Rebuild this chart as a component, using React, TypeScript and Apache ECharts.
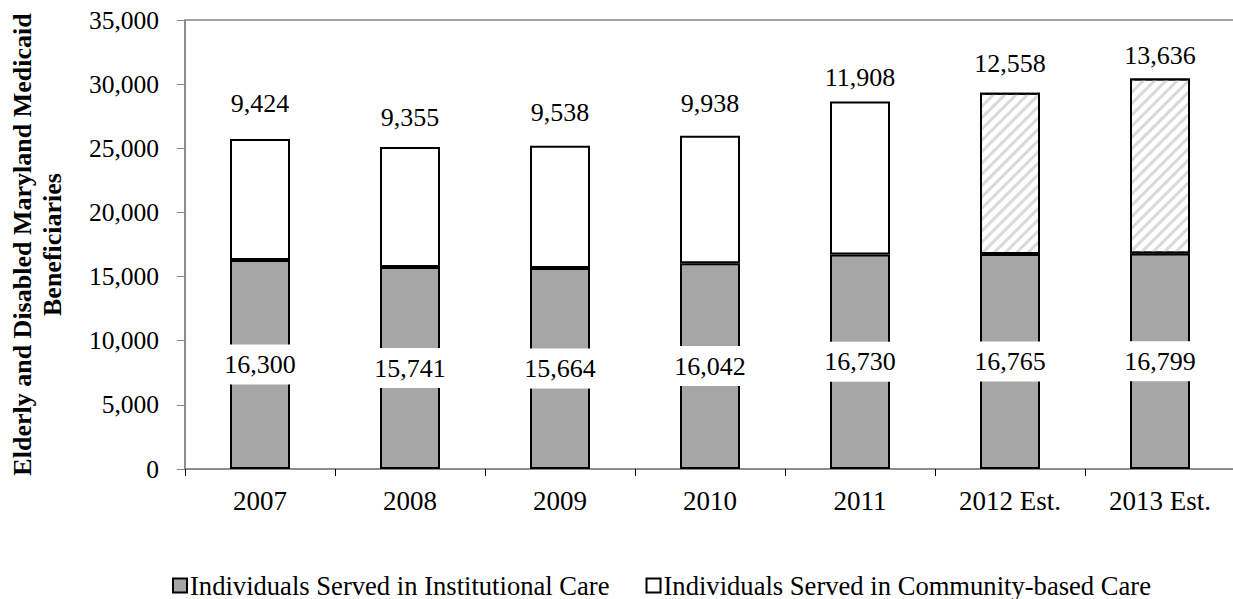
import React, { useEffect, useRef } from "react";
import * as echarts from "echarts";

const categories = ["2007", "2008", "2009", "2010", "2011", "2012 Est.", "2013 Est."];
const institutional = [16300, 15741, 15664, 16042, 16730, 16765, 16799];
const community = [9424, 9355, 9538, 9938, 11908, 12558, 13636];
const estimated = [false, false, false, false, false, true, true];
const yTicks = [0, 5000, 10000, 15000, 20000, 25000, 30000, 35000];
const seriesNames = ["Individuals Served in Institutional Care", "Individuals Served in Community-based Care"];
const yTitle = "Elderly and Disabled Maryland Medicaid\nBeneficiaries";
// label gaps above bars (style only)
const topLabelGap = [22, 17, 20, 19, 11, 16, 10];

const FONT = "Liberation Serif";
const fmt = (v: number) => v.toLocaleString("en-US");

export default function App() {
  const ref = useRef<HTMLDivElement>(null);
  useEffect(() => {
    if (!ref.current) return;
    const chart = echarts.init(ref.current, undefined, { renderer: "svg" });
    const hatch = {
      symbol: "rect",
      symbolSize: 1,
      dashArrayX: [1, 0],
      dashArrayY: [3, 5],
      rotation: -Math.PI / 4,
      color: "#d9d9d9",
    };
    chart.setOption({
      animation: false,
      backgroundColor: "#fff",
      textStyle: { fontFamily: FONT, color: "#000" },
      grid: {
        left: 185,
        right: -2,
        top: 20,
        bottom: 130,
        show: true,
        borderColor: "#868686",
        borderWidth: 1.5,
        backgroundColor: "transparent",
        containLabel: false,
        outerBoundsMode: "none",
      },
      legend: {
        top: 567,
        left: 167,
        icon: "rect",
        itemWidth: 14,
        itemHeight: 14,
        itemGap: 36,
        itemStyle: { borderColor: "#000", borderWidth: 2 },
        textStyle: { fontFamily: FONT, fontSize: 26.6, color: "#000", padding: [0, 0, 0, -2] },
        data: seriesNames,
      },
      xAxis: {
        type: "category",
        data: categories,
        axisLine: { lineStyle: { color: "#868686", width: 1.5 } },
        axisTick: { show: true, length: 7, lineStyle: { color: "#000" } },
        axisLabel: { fontFamily: FONT, fontSize: 27, color: "#000", margin: 18 },
      },
      yAxis: {
        type: "value",
        min: 0,
        max: 35000,
        interval: 5000,
        name: yTitle,
        nameLocation: "middle",
        nameRotate: 90,
        nameGap: 118,
        nameTextStyle: { fontFamily: FONT, fontSize: 26, fontWeight: "bold", color: "#000", lineHeight: 30 },
        axisLine: { show: true, lineStyle: { color: "#868686", width: 1.5 } },
        axisTick: { show: true, length: 8, lineStyle: { color: "#868686" } },
        splitLine: { show: false },
        axisLabel: {
          fontFamily: FONT,
          fontSize: 25.5,
          color: "#000",
          margin: 26,
          formatter: (v: number) => (yTicks.includes(v) ? fmt(v) : ""),
        },
      },
      series: [
        {
          name: seriesNames[0],
          type: "bar",
          stack: "total",
          barWidth: "40%",
          data: institutional,
          itemStyle: { color: "#a6a6a6", borderColor: "#000", borderWidth: 2 },
          label: {
            show: true,
            position: "inside",
            fontFamily: FONT,
            fontSize: 26,
            color: "#000",
            backgroundColor: "#fff",
            padding: [7, 1],
            formatter: (p: any) => fmt(p.value),
          },
        },
        {
          name: seriesNames[1],
          type: "bar",
          stack: "total",
          barWidth: "40%",
          data: community.map((v, i) => ({
            value: v,
            label: { distance: topLabelGap[i] },
            itemStyle: estimated[i] ? { decal: hatch } : undefined,
          })),
          itemStyle: { color: "#fff", borderColor: "#000", borderWidth: 2 },
          label: {
            show: true,
            position: "top",
            fontFamily: FONT,
            fontSize: 26,
            color: "#000",
            formatter: (p: any) => fmt(p.value),
          },
        },
      ],
    });
    return () => chart.dispose();
  }, []);
  return <div ref={ref} style={{ position: "fixed", left: 0, top: 0, width: 1233, height: 599 }} />;
}
